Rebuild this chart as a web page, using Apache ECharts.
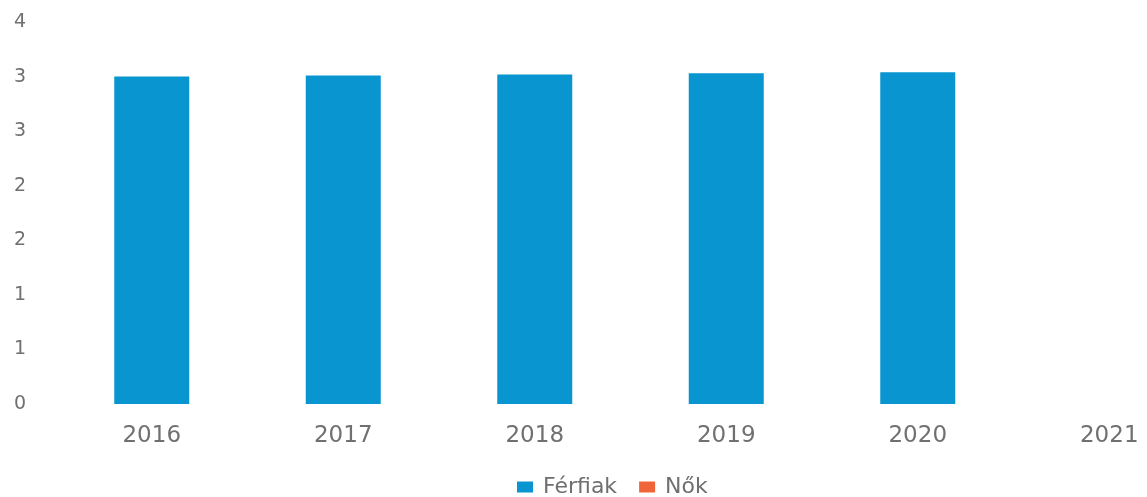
<!DOCTYPE html>
<html>
<head>
<meta charset="utf-8">
<script src="https://cdn.jsdelivr.net/npm/echarts@6/dist/echarts.min.js"></script>
<style>
  html, body { margin: 0; padding: 0; background: #fff; }
  #main { width: 1147px; height: 497px; }
</style>
</head>
<body>
<div id="main"></div>
<script>
// data
var years = ['2016', '2017', '2018', '2019', '2020', '2021']
var ferfiak = [3.0, 3.01, 3.02, 3.03, 3.04, null]
var nok = [null, null, null, null, null, null]
var yTickLabels = ['0', '1', '1', '2', '2', '3', '3', '4']

var chart = echarts.init(document.getElementById('main'))
var font = 'DejaVu Sans'

var option = {
  backgroundColor: '#fff',
  animation: false,
  grid: {
    left: 56,
    right: -58,
    top: 22,
    bottom: 93,
    outerBoundsMode: 'none'
  },
  legend: {
    left: 512,
    top: 471,
    itemWidth: 16,
    itemHeight: 11,
    itemGap: 22,
    icon: 'rect',
    textStyle: { color: '#6f6f6f', fontSize: 22, fontFamily: font, padding: [0, 0, 0, 5] },
    data: ['Férfiak', 'Nők']
  },
  xAxis: {
    type: 'category',
    data: years,
    axisLine: { show: false },
    axisTick: { show: false },
    axisLabel: {
      color: '#707070',
      fontSize: 23,
      fontFamily: font,
      margin: 21
    }
  },
  yAxis: {
    type: 'value',
    min: 0,
    max: 3.5,
    interval: 0.5,
    splitLine: { show: false },
    axisLine: { show: false },
    axisTick: { show: false },
    axisLabel: {
      color: '#707070',
      fontSize: 19,
      fontFamily: font,
      margin: 30,
      formatter: function (v) {
        return yTickLabels[Math.round(v / 0.5)]
      }
    }
  },
  series: [
    {
      name: 'Férfiak',
      type: 'bar',
      barWidth: 75,
      barGap: '-100%',
      itemStyle: { color: '#0995d0' },
      data: ferfiak
    },
    {
      name: 'Nők',
      type: 'bar',
      barWidth: 75,
      itemStyle: { color: '#f0643a' },
      data: nok
    }
  ]
}
option && chart.setOption(option)
</script>
</body>
</html>
